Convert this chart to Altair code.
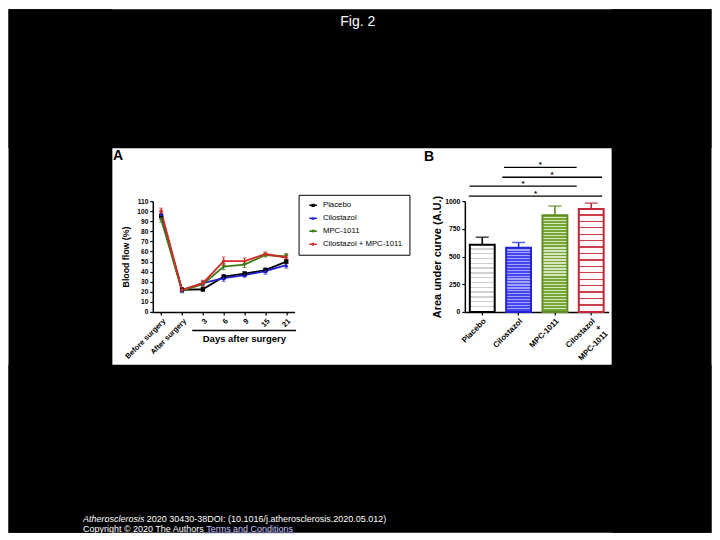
import altair as alt
import pandas as pd

FONT = "Liberation Sans, Arial, Helvetica, sans-serif"

# ---------------- data ----------------
days = ["Before surgery", "After surgery", "3", "6", "9", "15", "21"]
series_names = ["Placebo", "Cilostazol", "MPC-1011", "Cilostazol + MPC-1011"]
placebo_mean = [95, 22, 22.5, 35, 38, 41.5, 50]
placebo_sem = [3, 2, 2, 2, 2, 2, 2]
cilostazol_mean = [97, 21.5, 28.5, 33.5, 36.5, 40.5, 46.5]
cilostazol_sem = [3, 2, 2, 3, 2, 3, 3]
mpc_mean = [92, 21, 27.5, 45, 47, 56.5, 55]
mpc_sem = [3, 2, 3, 3, 3, 2, 3]
combo_mean = [100, 22, 28.5, 50.5, 50.5, 57.5, 54]
combo_sem = [3, 2, 3, 4, 3, 2, 3]

auc_groups = ["Placebo", "Cilostazol", "MPC-1011", "Cilostazol + MPC-1011"]
auc_mean = [606, 580, 872, 928]
auc_sd = [68, 47, 83, 54]

sig_x1 = [0.6, 0.55, -0.35, -0.37]
sig_x2 = [2.6, 3.3, 2.6, 3.3]
sig_y = [1305, 1215, 1135, 1045]
sig_label = ["*", "*", "*", "*"]

# ---------------- styles ----------------
line_colors = ["#000000", "#1f1fd0", "#3d7a12", "#d42a2a"]
marker_shapes = ["square", "triangle-up", "triangle-down", "diamond"]
bar_edge = ["#000000", "#2323d8", "#5f8f22", "#c2283a"]
BAR = "M-1.9,-0.35H1.9V0.35H-1.9Z"
legend_shapes = [
    BAR + "M-0.8,-0.8H0.8V0.8H-0.8Z",
    BAR + "M0,-0.95L0.95,0.75L-0.95,0.75Z",
    BAR + "M0,0.95L-0.95,-0.75L0.95,-0.75Z",
    BAR + "M0,-1L0.9,0L0,1L-0.9,0Z",
]

AX = dict(domainColor="black", domainWidth=1.5, tickColor="black", tickWidth=1.2, tickSize=3,
          labelColor="black", labelFont=FONT, labelFontWeight="bold", labelPadding=2,
          titleFont=FONT, titleFontWeight="bold", titleColor="black", grid=False)

# ---------------- tables ----------------
rows = []
for name, means, sems in zip(series_names,
                             [placebo_mean, cilostazol_mean, mpc_mean, combo_mean],
                             [placebo_sem, cilostazol_sem, mpc_sem, combo_sem]):
    for i, (d, m, s) in enumerate(zip(days, means, sems)):
        rows.append({"series": name, "day": d, "idx": i, "v": m, "lo": m - s, "hi": m + s})
dfA = pd.DataFrame(rows)

dfB = pd.DataFrame({"group": auc_groups, "mean": auc_mean,
                    "top": [m + s for m, s in zip(auc_mean, auc_sd)]})
dfS = pd.DataFrame({"x1": sig_x1, "x2": sig_x2, "y": sig_y, "lab": sig_label,
                    "xm": [(a + b) / 2 for a, b in zip(sig_x1, sig_x2)]})

# ---------------- layout helpers (page pixel -> panel A plot coords) ----------------
OX, OY = 152.5, 200.0
def rx(v):
    return v - OX
def ry(v):
    return v - OY

one = alt.Data(values=[{}])

def rect(x1, x2, y1, y2, color):
    return alt.Chart(one).mark_rect(color=color).encode(
        x=alt.value(rx(x1)), x2=alt.value(rx(x2)), y=alt.value(ry(y1)), y2=alt.value(ry(y2)))

def hline(x1, x2, y, color, w):
    return alt.Chart(one).mark_rule(color=color, strokeWidth=w).encode(
        x=alt.value(rx(x1)), x2=alt.value(rx(x2)), y=alt.value(ry(y)))

def txt(s, x, y, **kw):
    return alt.Chart(alt.Data(values=[{"t": s}])).mark_text(font=FONT, **kw).encode(
        x=alt.value(rx(x)), y=alt.value(ry(y)), text="t:N")

# ---------------- panel A ----------------
xScaleA = alt.Scale(type="point", domain=days, padding=0.4)
yScaleA = alt.Scale(domain=[0, 110], nice=False)
axXA = alt.Axis(title=None, labelAngle=-45, labelFontSize=7.5, **AX)
axYA = alt.Axis(values=list(range(0, 111, 10)), title="Blood flow (%)",
                titleFontSize=8.8, labelFontSize=6.6, titleX=-27, titleY=55.5,
                titleBaseline="middle", **AX)
xA = alt.X("day:N", scale=xScaleA, axis=axXA)
def yA(f):
    return alt.Y(f, scale=yScaleA, axis=axYA)
colA = alt.Scale(domain=series_names, range=line_colors)
def cA():
    return alt.Color("series:N", scale=colA, legend=None)

baseA = alt.Chart(dfA)
linesA = baseA.mark_line(strokeWidth=1.8).encode(
    x=xA, y=yA("v:Q"), order=alt.Order("idx:Q"), color=cA())
errA = baseA.mark_rule(strokeWidth=1).encode(x=xA, y=yA("lo:Q"), y2="hi:Q", color=cA())
capHiA = baseA.mark_tick(size=4, thickness=1).encode(x=xA, y=yA("hi:Q"), color=cA())
capLoA = baseA.mark_tick(size=4, thickness=1).encode(x=xA, y=yA("lo:Q"), color=cA())
markA = baseA.mark_point(filled=True, size=18, opacity=1).encode(
    x=xA, y=yA("v:Q"), color=cA(),
    shape=alt.Shape("series:N", scale=alt.Scale(domain=series_names, range=marker_shapes), legend=None))

leg = dict(title=None, orient="none", legendX=146, legendY=-6.3, fillColor="white",
           strokeColor="black", padding=6.6, rowPadding=4, labelFontSize=7.8,
           labelFont=FONT, labelFontWeight="normal", labelColor="black", symbolSize=16,
           symbolOpacity=1, labelOffset=6, symbolOffset=4, labelLimit=300,
           symbolStrokeWidth=0)
legendA = baseA.mark_point(filled=True, size=16, opacity=0).encode(
    x=xA, y=yA("v:Q"),
    color=alt.Color("series:N", scale=colA, legend=alt.Legend(**leg)),
    shape=alt.Shape("series:N", scale=alt.Scale(domain=series_names, range=legend_shapes),
                    legend=alt.Legend(**leg)))

panelA = alt.layer(
    # black frame around the white figure panel (page background); pieces overlap
    rect(8, 712, 8, 147, "black"),
    rect(8, 712, 364, 532, "black"),
    rect(8, 112, 8, 532, "black"),
    rect(612, 712, 8, 532, "black"),
    txt("Fig. 2", 357.8, 24.7, align="center", baseline="alphabetic", fontSize=14, color="white"),
    txt("A", 112.7, 159, align="left", baseline="alphabetic", fontSize=14, fontWeight="bold", color="black"),
    txt("B", 424, 160, align="left", baseline="alphabetic", fontSize=14, fontWeight="bold", color="black"),
    hline(192, 296, 329.7, "black", 1.5),
    txt("Days after surgery", 244.2, 341.5, align="center", baseline="alphabetic", fontSize=9.5,
        fontWeight="bold", color="black"),
    txt("Atherosclerosis", 82.7, 521.5, align="left", baseline="alphabetic", fontSize=9,
        fontStyle="italic", color="white"),
    txt("2020 30430-38DOI: (10.1016/j.atherosclerosis.2020.05.012)", 146.5, 521.5, align="left",
        baseline="alphabetic", fontSize=9, color="white"),
    txt("Copyright \u00a9 2020 The Authors", 82.7, 531, align="left", baseline="alphabetic",
        fontSize=9, color="white"),
    txt("Terms and Conditions", 206, 531, align="left", baseline="alphabetic", fontSize=9,
        color="#c4c4ff"),
    hline(203, 294, 532.6, "#c4c4ff", 0.8),
    errA, capHiA, capLoA, linesA, markA, legendA,
).resolve_scale(color="independent", shape="independent").properties(width=142, height=111)

# ---------------- panel B ----------------
def stripes(c1, c2, n, frac):
    stops = []
    for k in range(n):
        s = k / n
        m = (k + 1 - frac) / n
        e = (k + 1) / n
        stops += [alt.GradientStop(color=c1, offset=s), alt.GradientStop(color=c1, offset=m),
                  alt.GradientStop(color=c2, offset=m), alt.GradientStop(color=c2, offset=e)]
    return alt.LinearGradient(gradient="linear", stops=stops, x1=0, x2=0, y1=0, y2=1)

bar_fills = [
    stripes("#ffffff", "#cfcfcf", 14, 0.3),
    stripes("#4646f0", "#a4a4fa", 22, 0.45),
    stripes("#78a636", "#d6e6be", 32, 0.4),
    stripes("#fff8f8", "#c8404a", 16, 0.18),
]

xScaleB = alt.Scale(domain=auc_groups, paddingInner=0.315, paddingOuter=0.137)
yScaleB = alt.Scale(domain=[0, 1000], nice=False)
axXB = alt.Axis(title=None, labelAngle=-45, labelFontSize=8, labelLineHeight=9,
                labelExpr="datum.value == 'Cilostazol + MPC-1011' ? ['Cilostazol', '+', 'MPC-1011'] : datum.value",
                **AX)
axYB = alt.Axis(values=[0, 250, 500, 750, 1000], format="d", title="Area under curve (A.U.)",
                titleFontSize=11, labelFontSize=6.8, titleX=-27, titleY=55.5,
                titleBaseline="middle", **AX)
xB = alt.X("group:N", scale=xScaleB, axis=axXB)
def yB(f):
    return alt.Y(f, scale=yScaleB, axis=axYB)
colB = alt.Scale(domain=auc_groups, range=bar_edge)
def cB():
    return alt.Color("group:N", scale=colB, legend=None)

baseB = alt.Chart(dfB)
bar_layers = []
for g, f, c in zip(auc_groups, bar_fills, bar_edge):
    bar_layers.append(
        baseB.transform_filter(alt.FieldEqualPredicate(field="group", equal=g))
        .mark_bar(fill=f, stroke=c, strokeWidth=2)
        .encode(x=xB, y=yB("mean:Q")))
errB = baseB.mark_rule(strokeWidth=1.6).encode(x=xB, y=yB("mean:Q"), y2="top:Q", color=cB())
capB = baseB.mark_tick(size=13, thickness=1.6).encode(x=xB, y=yB("top:Q"), color=cB())
barsB = alt.layer(*bar_layers, errB, capB)

xS = alt.Scale(domain=[-0.479, 3.48], nice=False, zero=False)
sigRules = alt.Chart(dfS).mark_rule(strokeWidth=1.3, color="black").encode(
    x=alt.X("x1:Q", scale=xS, axis=None), x2="x2:Q", y=yB("y:Q"))
sigText = alt.Chart(dfS).mark_text(font=FONT, fontSize=8, fontWeight="bold", color="black",
                                   baseline="alphabetic", dy=-0.5).encode(
    x=alt.X("xm:Q", scale=xS, axis=None), y=yB("y:Q"), text="lab:N")
sigB = alt.layer(sigRules, sigText)

panelB = alt.layer(barsB, sigB).resolve_scale(x="independent").properties(width=144, height=111)

chart = alt.hconcat(panelA, panelB, spacing=170.5, bounds="flush").resolve_scale(
    color="independent", shape="independent"
).properties(padding=0, background="white").configure_view(
    stroke="transparent"
)

chart.save("out.html", embed_options={"renderer": "svg", "actions": False})
